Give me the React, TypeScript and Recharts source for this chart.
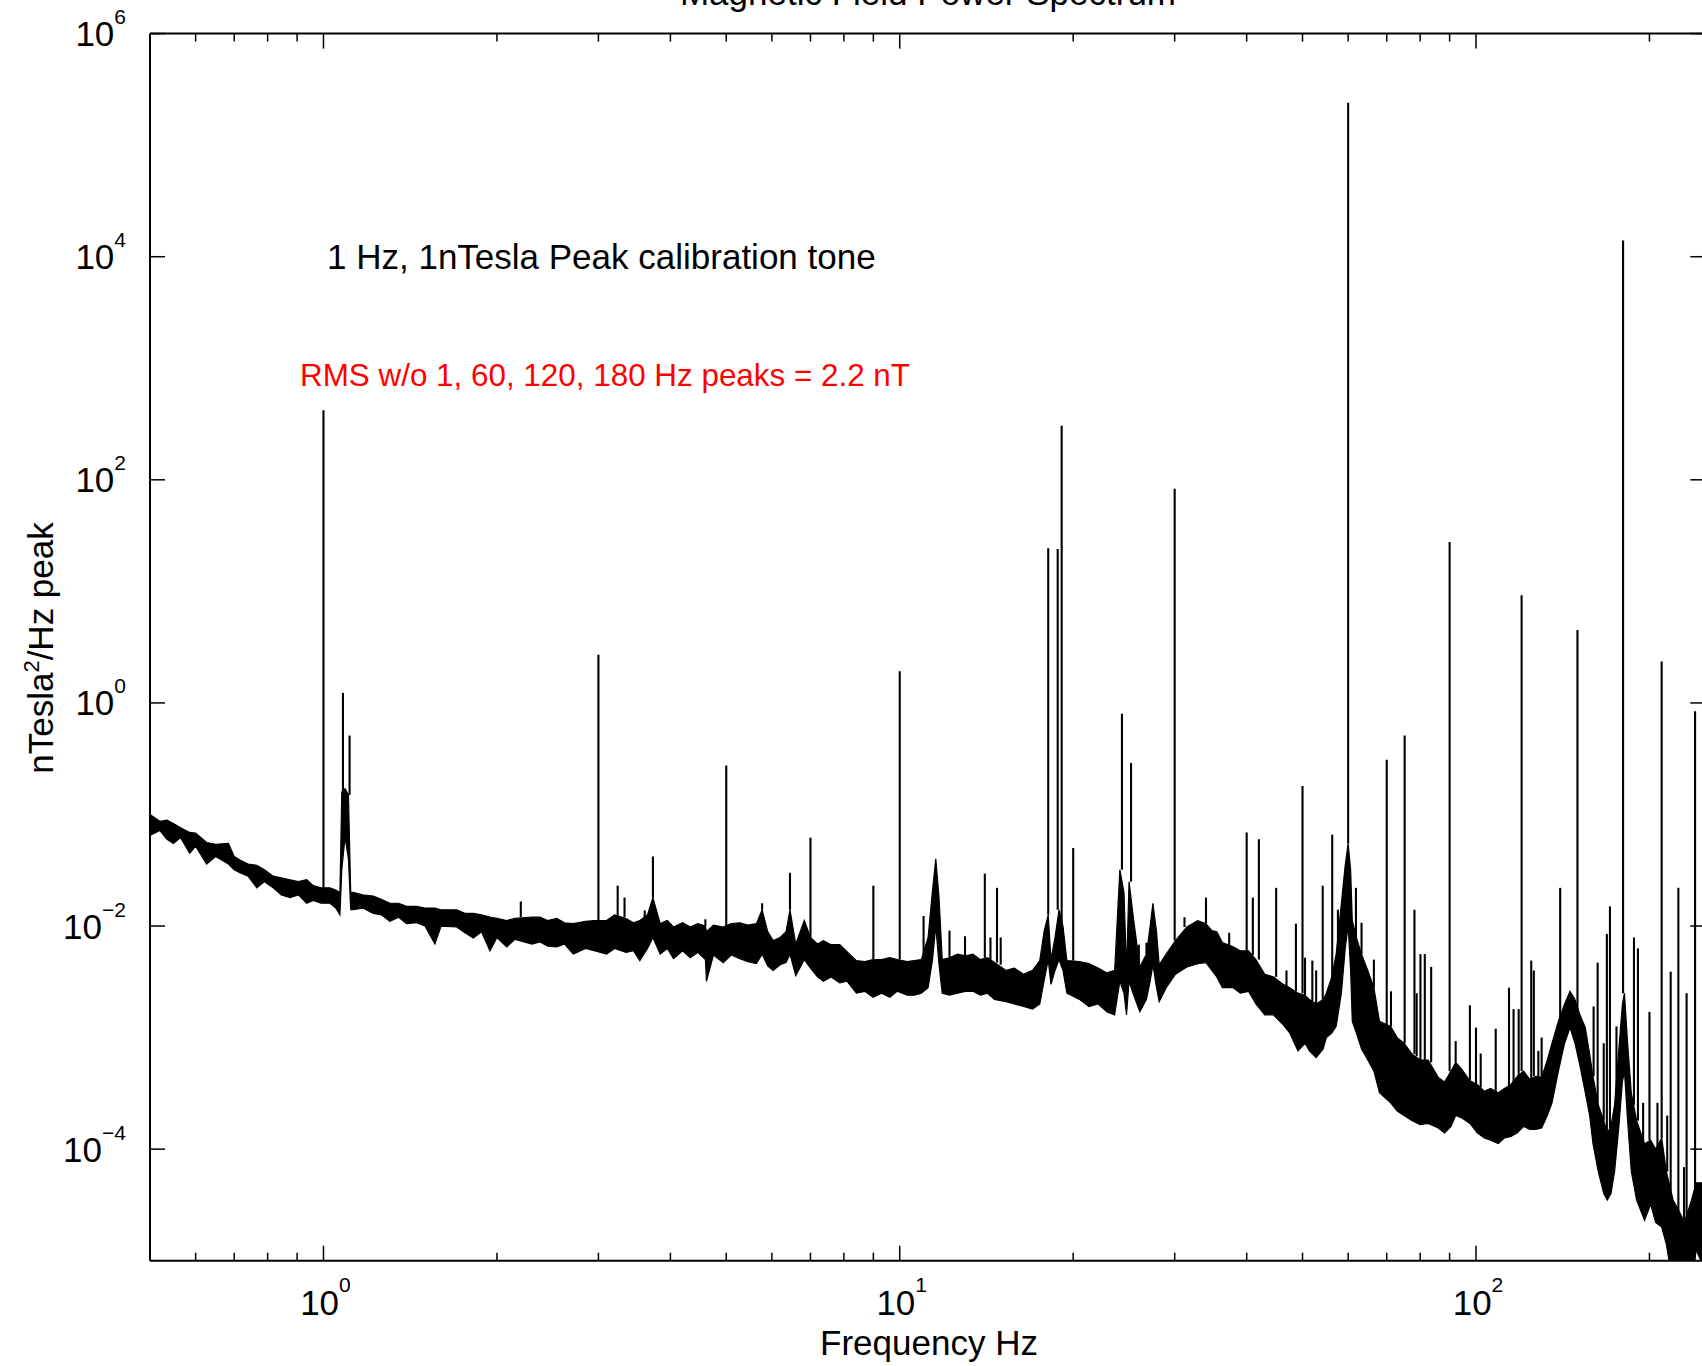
import React from 'react';
import { ComposedChart, Area, XAxis, YAxis, ReferenceLine } from 'recharts';

const FONT = '"Liberation Sans", Arial, Helvetica, sans-serif';

// noise floor: frequency (Hz) with the upper and lower edge of the trace
const bandHz = [
  0.5, 0.52, 0.535, 0.549, 0.565, 0.586, 0.6, 0.627, 0.65, 0.684,
  0.7, 0.716, 0.74, 0.766, 0.79, 0.818, 0.845, 0.875, 0.905, 0.935,
  0.96, 0.99, 1.026, 1.05, 1.068, 1.076, 1.09, 1.105, 1.115, 1.126,
  1.17, 1.22, 1.26, 1.304, 1.35, 1.394, 1.45, 1.5, 1.561, 1.6,
  1.703, 1.76, 1.82, 1.88, 1.945, 2.0, 2.08, 2.15, 2.3, 2.376,
  2.45, 2.54, 2.62, 2.714, 2.85, 2.95, 3.1, 3.2, 3.35, 3.45,
  3.54, 3.65, 3.73, 3.84, 3.95, 4.05, 4.2, 4.33, 4.46, 4.6,
  4.62, 4.75, 4.94, 5.1, 5.28, 5.45, 5.64, 5.77, 5.9, 6.03,
  6.2, 6.35, 6.45, 6.6, 6.83, 7.0, 7.2, 7.37, 7.6, 7.87,
  8.1, 8.41, 8.7, 8.99, 9.3, 9.61, 9.9, 10.3, 10.6, 10.9,
  11.2, 11.4, 11.55, 11.7, 11.85, 12.2, 12.6, 13.0, 13.4, 13.8,
  14.2, 14.6, 15.3, 15.8, 16.4, 17.0, 17.5, 17.8, 18.1, 18.3,
  18.6, 18.9, 19.2, 19.5, 20.5, 21.3, 22.1, 22.9, 23.6, 24.1,
  24.5, 24.75, 25.0, 25.4, 26.1, 26.8, 27.2, 27.5, 27.9, 28.2,
  29.0, 30.1, 31.5, 32.9, 34.0, 34.8, 35.5, 36.3, 37.9, 39.0,
  40.3, 41.5, 43.0, 44.5, 46.3, 47.5, 49.1, 50.5, 51.4, 52.8,
  54.3, 55.0, 56.2, 57.2, 58.4, 59.3, 60.0, 60.6, 61.0, 62.0,
  63.3, 64.9, 66.5, 68.0, 71.1, 73.0, 75.0, 77.5, 80.0, 82.6,
  86.0, 88.2, 90.5, 92.2, 94.5, 97.6, 100.5, 103.4, 106.0, 109.3,
  112.0, 115.0, 118.0, 121.0, 124.0, 127.0, 130.0, 133.0, 135.5, 139.0,
  142.5, 145.6, 148.5, 151.5, 154.8, 157.5, 159.6, 163.0, 166.6, 169.0,
  171.5, 174.0, 177.0, 179.5, 181.0, 183.0, 186.0, 190.0, 196.1, 201,
  205, 210, 214, 219.8, 225, 230, 236.6, 241, 250,
];
const bandHigh = [
  1.0e-1, 8.7e-2, 8.9e-2, 8.3e-2, 7.6e-2, 6.9e-2, 6.8e-2, 5.6e-2, 5.4e-2, 5.5e-2,
  4.2e-2, 3.9e-2, 3.6e-2, 3.5e-2, 3.2e-2, 2.8e-2, 2.7e-2, 2.6e-2, 2.5e-2, 2.6e-2,
  2.3e-2, 2.2e-2, 2.2e-2, 2.1e-2, 2.0e-2, 1.6e-1, 1.7e-1, 1.5e-1, 2.0e-2, 2.0e-2,
  1.9e-2, 1.86e-2, 1.74e-2, 1.6e-2, 1.6e-2, 1.5e-2, 1.5e-2, 1.45e-2, 1.45e-2, 1.4e-2,
  1.4e-2, 1.3e-2, 1.3e-2, 1.26e-2, 1.2e-2, 1.17e-2, 1.12e-2, 1.17e-2, 1.2e-2, 1.2e-2,
  1.12e-2, 1.17e-2, 1.07e-2, 1.05e-2, 1.1e-2, 1.12e-2, 1.12e-2, 1.26e-2, 1.17e-2, 1.07e-2,
  1.12e-2, 1.26e-2, 1.8e-2, 1.05e-2, 1.12e-2, 9.8e-3, 1.07e-2, 9.8e-3, 1.05e-2, 1.0e-2,
  8.9e-3, 1.02e-2, 9.8e-3, 1.05e-2, 1.07e-2, 1.02e-2, 1.05e-2, 1.4e-2, 8.9e-3, 7.4e-3,
  7.9e-3, 8.9e-3, 1.4e-2, 6.9e-3, 1.12e-2, 7.9e-3, 6.9e-3, 7.4e-3, 6.8e-3, 6.8e-3,
  5.9e-3, 4.9e-3, 4.8e-3, 5.0e-3, 5.0e-3, 5.2e-3, 5.0e-3, 4.8e-3, 4.9e-3, 5.0e-3,
  7.9e-3, 2.1e-2, 4.0e-2, 1.8e-2, 5.0e-3, 5.2e-3, 5.6e-3, 5.4e-3, 5.6e-3, 5.0e-3,
  5.2e-3, 4.7e-3, 4.0e-3, 4.2e-3, 3.7e-3, 4.0e-3, 4.9e-3, 8.9e-3, 1.26e-2, 5.0e-3,
  7.9e-3, 1.4e-2, 1.0e-2, 4.9e-3, 4.8e-3, 4.6e-3, 4.2e-3, 3.8e-3, 4.0e-3, 3.2e-2,
  2.0e-2, 4.0e-3, 2.5e-2, 1.26e-2, 4.3e-3, 5.6e-3, 1.0e-2, 1.6e-2, 8.9e-3, 4.5e-3,
  5.6e-3, 7.4e-3, 9.8e-3, 1.12e-2, 1.05e-2, 9.1e-3, 8.9e-3, 7.1e-3, 6.5e-3, 6.0e-3,
  6.0e-3, 5.0e-3, 3.7e-3, 3.5e-3, 3.0e-3, 2.8e-3, 2.5e-3, 2.4e-3, 2.2e-3, 2.0e-3,
  2.2e-3, 2.5e-3, 3.5e-3, 5.6e-3, 1.6e-2, 3.5e-2, 5.5e-2, 3.2e-2, 1.12e-2, 7.9e-3,
  5.6e-3, 4.0e-3, 2.8e-3, 1.4e-3, 1.26e-3, 1.0e-3, 8.9e-4, 7.1e-4, 6.3e-4, 6.3e-4,
  4.4e-4, 4.0e-4, 5.0e-4, 6.0e-4, 5.2e-4, 4.1e-4, 3.8e-4, 3.3e-4, 3.5e-4, 3.2e-4,
  3.5e-4, 3.8e-4, 4.5e-4, 5.0e-4, 4.2e-4, 4.5e-4, 4.4e-4, 6.3e-4, 8.9e-4, 1.4e-3,
  2.0e-3, 2.6e-3, 2.2e-3, 1.6e-3, 1.23e-3, 7.1e-4, 4.5e-4, 2.5e-4, 1.8e-4, 1.4e-4,
  1.6e-4, 2.5e-4, 7.9e-4, 2.0e-3, 2.5e-3, 1.0e-3, 3.2e-4, 1.8e-4, 1.12e-4, 1.2e-4,
  1.0e-4, 1.26e-4, 6.3e-5, 3.5e-5, 2.8e-5, 2.2e-5, 3.5e-5, 5.0e-5, 5.0e-5,
];
const bandLow = [
  6.5e-2, 7.2e-2, 6.0e-2, 5.5e-2, 6.2e-2, 4.5e-2, 5.2e-2, 3.6e-2, 4.2e-2, 3.6e-2,
  3.2e-2, 3.0e-2, 2.8e-2, 2.2e-2, 2.5e-2, 2.2e-2, 1.9e-2, 1.8e-2, 1.9e-2, 1.6e-2,
  1.7e-2, 1.6e-2, 1.6e-2, 1.45e-2, 1.26e-2, 3.2e-2, 6.3e-2, 4.0e-2, 1.4e-2, 1.4e-2,
  1.45e-2, 1.3e-2, 1.26e-2, 1.1e-2, 1.2e-2, 1.05e-2, 1.07e-2, 1.0e-2, 6.9e-3, 1.0e-2,
  9.8e-3, 8.7e-3, 7.8e-3, 8.9e-3, 6.0e-3, 7.9e-3, 6.5e-3, 7.6e-3, 6.9e-3, 7.2e-3,
  6.6e-3, 6.5e-3, 6.9e-3, 5.6e-3, 6.3e-3, 6.0e-3, 5.6e-3, 6.3e-3, 5.8e-3, 6.0e-3,
  4.9e-3, 6.3e-3, 7.9e-3, 5.6e-3, 6.3e-3, 5.1e-3, 6.0e-3, 5.2e-3, 5.8e-3, 5.0e-3,
  3.2e-3, 5.5e-3, 4.7e-3, 5.5e-3, 5.1e-3, 4.8e-3, 4.6e-3, 5.6e-3, 4.4e-3, 4.0e-3,
  4.5e-3, 4.7e-3, 5.6e-3, 3.6e-3, 5.0e-3, 4.2e-3, 3.5e-3, 3.2e-3, 3.5e-3, 3.1e-3,
  3.2e-3, 2.5e-3, 2.6e-3, 2.3e-3, 2.5e-3, 2.3e-3, 2.6e-3, 2.4e-3, 2.4e-3, 2.5e-3,
  2.8e-3, 5.0e-3, 1.0e-2, 4.5e-3, 2.5e-3, 2.4e-3, 2.5e-3, 2.6e-3, 2.6e-3, 2.4e-3,
  2.5e-3, 2.2e-3, 2.1e-3, 2.0e-3, 1.9e-3, 1.8e-3, 2.0e-3, 3.2e-3, 5.0e-3, 3.0e-3,
  4.0e-3, 5.0e-3, 4.0e-3, 2.5e-3, 2.2e-3, 1.9e-3, 2.0e-3, 1.7e-3, 1.6e-3, 3.2e-3,
  2.5e-3, 1.6e-3, 3.2e-3, 2.5e-3, 1.7e-3, 2.2e-3, 3.2e-3, 4.5e-3, 2.8e-3, 2.1e-3,
  2.8e-3, 3.7e-3, 4.3e-3, 4.6e-3, 4.7e-3, 4.0e-3, 3.5e-3, 2.8e-3, 2.8e-3, 2.5e-3,
  2.6e-3, 2.0e-3, 1.6e-3, 1.6e-3, 1.3e-3, 1.1e-3, 7.6e-4, 8.9e-4, 7.6e-4, 6.6e-4,
  7.9e-4, 1.0e-3, 1.1e-3, 1.26e-3, 2.5e-3, 6.3e-3, 1.0e-2, 4.0e-3, 1.4e-3, 1.1e-3,
  7.9e-4, 6.3e-4, 5.0e-4, 3.2e-4, 2.6e-4, 2.2e-4, 2.0e-4, 1.8e-4, 1.66e-4, 1.7e-4,
  1.55e-4, 1.4e-4, 1.6e-4, 2.0e-4, 1.9e-4, 1.7e-4, 1.4e-4, 1.26e-4, 1.2e-4, 1.12e-4,
  1.26e-4, 1.3e-4, 1.4e-4, 1.6e-4, 1.5e-4, 1.5e-4, 1.55e-4, 2.0e-4, 2.6e-4, 5.0e-4,
  8.9e-4, 1.23e-3, 8.9e-4, 5.6e-4, 3.2e-4, 2.0e-4, 1.12e-4, 6.3e-5, 4.0e-5, 3.5e-5,
  4.0e-5, 6.3e-5, 1.6e-4, 4.0e-4, 5.0e-4, 2.0e-4, 6.3e-5, 3.5e-5, 2.3e-5, 3.2e-5,
  2.2e-5, 2.0e-5, 1.4e-5, 6e-6, 5e-6, 5e-6, 5e-6, 1.26e-5, 8e-6,
];

// narrow lines: frequency, peak value, and the level where each leaves the floor
const spikeHz = [
  1.0, 1.081, 1.11, 2.2, 3.0, 3.24, 3.33, 3.61, 3.73, 4.6,
  5.0, 5.77, 6.45, 7.0, 9.0, 10.0, 11.0, 12.2, 12.98, 14.05,
  14.37, 14.75, 14.97, 18.1, 18.8, 19.1, 20.0, 24.3, 25.2, 26.0,
  26.8, 30.0, 31.2, 34.0, 37.3, 40.0, 41.0, 42.0, 45.0, 46.9,
  48.7, 50.0, 50.5, 52.0, 52.8, 54.2, 56.3, 57.6, 60.0, 61.9,
  63.3, 66.5, 70.0, 71.2, 75.2, 78.2, 78.9, 80.1, 81.5, 83.6,
  90.0, 92.2, 97.6, 100, 101.9, 108.2, 114.1, 116.2, 118.6, 120,
  124.7, 126, 128.3, 130, 140, 150, 160, 162.6, 166.6, 168.7,
  170.8, 175.3, 180, 188, 191, 195, 200, 206.5, 210, 214.7,
  217.7, 224.5, 229.6, 232, 240,
];
const spikeTop = [
  420, 1.23, 0.51, 1.66e-2, 2.7, 2.3e-2, 1.8e-2, 1.38e-2, 4.2e-2, 1.15e-2,
  0.275, 1.6e-2, 3.0e-2, 6.2e-2, 2.3e-2, 1.92, 1.23e-2, 9.1e-3, 8.1e-3, 2.95e-2,
  7.9e-3, 2.2e-2, 7.9e-3, 24.3, 24, 305, 5.0e-2, 0.8, 0.29, 6.8e-3,
  7.1e-3, 83, 1.2e-2, 1.8e-2, 8.7e-3, 6.9e-2, 1.8e-2, 6.0e-2, 2.2e-2, 4.0e-3,
  1.05e-2, 0.18, 5.2e-3, 4.9e-3, 4.0e-3, 2.3e-2, 6.6e-2, 1.4e-2, 2.4e5, 2.2e-2,
  1.07e-2, 5.0e-3, 0.31, 2.6e-3, 0.51, 1.4e-2, 2.5e-3, 5.6e-3, 5.6e-3, 4.3e-3,
  27.7, 9.3e-4, 1.95e-3, 1.23e-3, 7.2e-4, 1.2e-3, 2.8e-3, 1.8e-3, 1.8e-3, 9.25,
  4.9e-3, 4.0e-3, 7.6e-4, 1.0e-3, 2.2e-2, 4.5, 1.9e-3, 4.7e-3, 8.9e-4, 8.5e-3,
  1.5e-2, 1.26e-3, 1.4e4, 7.9e-3, 6.3e-3, 2.6e-4, 1.7e-3, 2.6e-4, 2.35, 2.0e-4,
  3.9e-3, 2.2e-2, 6.9e-5, 2.5e-3, 0.84,
];
const spikeFoot = [
  2.0e-2, 1.6e-1, 1.5e-1, 1.2e-2, 1.1e-2, 1.2e-2, 1.2e-2, 1.1e-2, 1.8e-2, 1.0e-2,
  1.0e-2, 1.4e-2, 1.4e-2, 7.9e-3, 5.0e-3, 5.0e-3, 5.0e-3, 5.2e-3, 5.4e-3, 5.2e-3,
  5.0e-3, 4.7e-3, 4.5e-3, 1.26e-2, 1.4e-2, 1.0e-2, 4.9e-3, 3.2e-2, 2.5e-2, 4.3e-3,
  5.6e-3, 7.4e-3, 9.8e-3, 1.05e-2, 6.6e-3, 6.0e-3, 5.5e-3, 5.0e-3, 3.5e-3, 2.9e-3,
  2.6e-3, 2.5e-3, 2.4e-3, 2.1e-3, 2.0e-3, 2.2e-3, 3.5e-3, 6.0e-3, 5.5e-2, 8.0e-3,
  5.6e-3, 2.8e-3, 1.3e-3, 1.26e-3, 8.9e-4, 7.1e-4, 6.8e-4, 6.3e-4, 6.3e-4, 6.0e-4,
  5.0e-4, 6.0e-4, 4.1e-4, 3.8e-4, 3.6e-4, 3.2e-4, 3.6e-4, 3.8e-4, 4.5e-4, 5.0e-4,
  4.2e-4, 4.5e-4, 4.5e-4, 4.4e-4, 1.4e-3, 1.8e-3, 4.5e-4, 2.5e-4, 1.8e-4, 1.4e-4,
  1.5e-4, 3.0e-4, 2.5e-3, 2.5e-4, 1.8e-4, 1.15e-4, 1.2e-4, 1.0e-4, 1.26e-4, 6.3e-5,
  4.0e-5, 2.8e-5, 2.3e-5, 2.2e-5, 4.0e-5,
];

const xMajorTicks = [1, 10, 100];
const xMajorExponents = ['0', '1', '2'];
const xMinorTicks = [0.6, 0.7, 0.8, 0.9, 2, 3, 4, 5, 6, 7, 8, 9, 20, 30, 40, 50, 60, 70, 80, 90, 200];
const yMajorTicks = [1e-4, 1e-2, 1, 1e2, 1e4, 1e6];
const yMajorExponents = ['\u22124', '\u22122', '0', '2', '4', '6'];

const xAllTicks = [...xMinorTicks, ...xMajorTicks].sort((a, b) => a - b);
const X_DOMAIN = [0.5, 250];
const Y_DOMAIN = [1e-5, 1e6];

const rows = bandHz.map((f, i) => ({ f, range: [bandLow[i], bandHigh[i]] }));

const BottomTick = (props: any) => {
  const { x, y, payload } = props;
  const i = xMajorTicks.indexOf(payload.value);
  return (
    <g>
      <line x1={x} x2={x} y1={y} y2={y - (i >= 0 ? 15 : 8)} stroke="#000" strokeWidth={1.5} />
      {i >= 0 && (
        <text x={x + 2} y={y + 54} textAnchor="middle" fontFamily={FONT} fontSize={35} fill="#000">
          10<tspan dy={-23} fontSize={21}>{xMajorExponents[i]}</tspan>
        </text>
      )}
    </g>
  );
};

const TopTick = (props: any) => {
  const { x, y, payload } = props;
  const major = xMajorTicks.includes(payload.value);
  return <line x1={x} x2={x} y1={y} y2={y + (major ? 15 : 8)} stroke="#000" strokeWidth={1.5} />;
};

const LeftTick = (props: any) => {
  const { x, y, payload } = props;
  const i = yMajorTicks.indexOf(payload.value);
  return (
    <g>
      <line x1={x} x2={x + 15} y1={y} y2={y} stroke="#000" strokeWidth={1.5} />
      <text x={x - 24} y={y + 12.5} textAnchor="end" fontFamily={FONT} fontSize={35} fill="#000">
        10<tspan dy={-22} fontSize={21}>{yMajorExponents[i]}</tspan>
      </text>
    </g>
  );
};

const RightTick = (props: any) => {
  const { x, y } = props;
  return <line x1={x} x2={x - 15} y1={y} y2={y} stroke="#000" strokeWidth={1.5} />;
};

const axisLine = { stroke: '#000', strokeWidth: 2 };

export default function App() {
  const W = 1760;
  const H = 1366;
  return (
    <div style={{ position: 'fixed', left: 0, top: 0, width: 1702, height: 1366, overflow: 'hidden', background: '#fff' }}>
      <div style={{ position: 'relative', width: W, height: H }}>
        <ComposedChart
          width={W}
          height={H}
          data={rows}
          margin={{ top: 32.6, right: 53.7, bottom: 104.3, left: 149 }}
        >
          <XAxis
            xAxisId="bottom"
            dataKey="f"
            type="number"
            scale="log"
            domain={X_DOMAIN}
            allowDataOverflow
            ticks={xAllTicks}
            interval={0}
            height={1}
            tickSize={0}
            tickMargin={0}
            tickLine={false}
            tick={<BottomTick />}
            axisLine={axisLine}
          />
          <XAxis
            xAxisId="top"
            orientation="top"
            dataKey="f"
            type="number"
            scale="log"
            domain={X_DOMAIN}
            allowDataOverflow
            ticks={xAllTicks}
            interval={0}
            height={1}
            tickSize={0}
            tickMargin={0}
            tickLine={false}
            tick={<TopTick />}
            axisLine={axisLine}
          />
          <YAxis
            yAxisId="left"
            type="number"
            scale="log"
            domain={Y_DOMAIN}
            allowDataOverflow
            ticks={yMajorTicks}
            interval={0}
            width={1}
            tickSize={0}
            tickMargin={0}
            tickLine={false}
            tick={<LeftTick />}
            axisLine={axisLine}
          />
          <YAxis
            yAxisId="right"
            orientation="right"
            type="number"
            scale="log"
            domain={Y_DOMAIN}
            allowDataOverflow
            ticks={yMajorTicks}
            interval={0}
            width={1}
            tickSize={0}
            tickMargin={0}
            tickLine={false}
            tick={<RightTick />}
            axisLine={axisLine}
          />
          <Area
            xAxisId="bottom"
            yAxisId="left"
            dataKey="range"
            type="linear"
            stroke="#000"
            strokeWidth={1.2}
            fill="#000"
            fillOpacity={1}
            dot={false}
            activeDot={false}
            isAnimationActive={false}
          />
          {spikeHz.map((f, i) => (
            <ReferenceLine
              key={i}
              xAxisId="bottom"
              yAxisId="left"
              segment={[
                { x: f, y: spikeFoot[i] },
                { x: f, y: spikeTop[i] },
              ]}
              stroke="#000"
              strokeWidth={2.1}
            />
          ))}
        </ComposedChart>
        <svg
          width={W}
          height={H}
          style={{ position: 'absolute', left: 0, top: 0, pointerEvents: 'none' }}
          fontFamily={FONT}
        >
          <text x={928} y={5} textAnchor="middle" fontSize={35} fill="#000">
            Magnetic Field Power Spectrum
          </text>
          <text x={327} y={269} fontSize={35} fill="#000">
            1 Hz, 1nTesla Peak calibration tone
          </text>
          <text x={300} y={386} fontSize={32} fill="#ff0000" textLength={610} lengthAdjust="spacingAndGlyphs">
            RMS w/o 1, 60, 120, 180 Hz peaks = 2.2 nT
          </text>
          <text x={929} y={1355} textAnchor="middle" fontSize={35} fill="#000">
            Frequency Hz
          </text>
          <text x={53} y={648} transform="rotate(-90 53 648)" textAnchor="middle" fontSize={35} fill="#000">
            nTesla<tspan dy={-14} fontSize={22}>2</tspan>
            <tspan dy={14}>/Hz peak</tspan>
          </text>
        </svg>
      </div>
    </div>
  );
}
